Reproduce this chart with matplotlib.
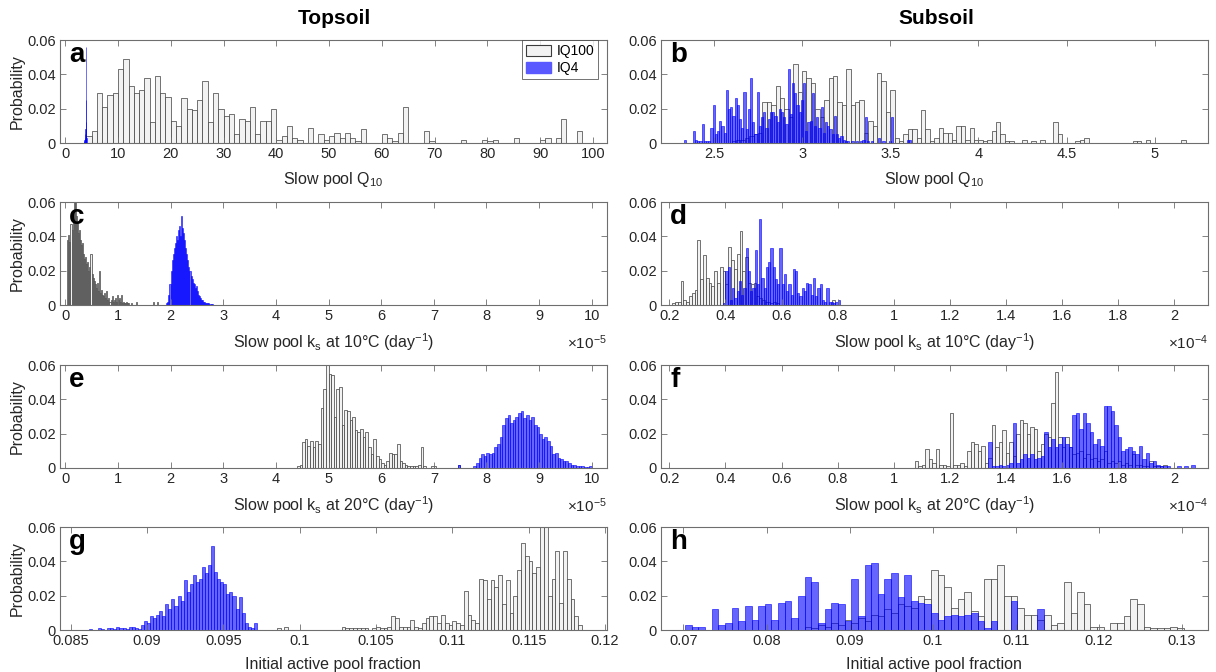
import numpy as np
import matplotlib.pyplot as plt
from matplotlib.patches import Patch

plt.rcParams['font.family'] = ['Liberation Sans', 'DejaVu Sans']
plt.rcParams['mathtext.default'] = 'regular'

# bin heights are stored in per-mille (probability * 1000)
PERMIL = 1e-3

# --- a: topsoil slow pool Q10 ---
a_iq100_lo, a_iq100_w = 4.0, 1.0
a_iq100 = [4, 7, 29, 21, 28, 29, 43, 49, 33, 29, 31, 38, 12, 39, 29, 27, 13, 10, 26, 20,
           19, 25, 36, 12, 29, 20, 16, 17, 5, 14, 13, 21, 5, 13, 13, 20, 2, 4, 10, 3,
           2, 0, 9, 0, 5, 2, 4, 6, 3, 6, 3, 1, 8, 0, 0, 0, 5, 3, 1, 6,
           21, 0, 0, 0, 7, 1, 0, 0, 0, 0, 0, 2, 0, 0, 0, 2, 1, 2, 0, 0,
           0, 3, 0, 0, 0, 0, 2, 3, 0, 3, 14, 0, 0, 7]
a_iq4_lo, a_iq4_w = 3.55, 0.05
a_iq4 = [0.5, 1, 2, 3, 5, 8, 12, 56, 25, 3]

# --- b: subsoil slow pool Q10 ---
b_iq100_lo, b_iq100_w = 2.55, 0.025
b_iq100 = [0, 0, 1, 2, 2, 3, 4, 5, 6,
           24, 24, 22, 33, 26, 20, 15, 46, 30,
           42, 38, 35, 20, 15, 25, 38, 39, 24,
           22, 43, 22, 24, 25, 6, 13, 10, 41,
           36, 18, 31, 3, 1, 5, 8, 8, 3,
           19, 8, 1, 3, 9, 6, 6, 2, 10,
           10, 2, 9, 2, 2, 1, 2, 7, 12,
           5, 1, 1, 0, 0, 2, 0, 1, 0,
           2, 0, 0, 12, 5, 0, 0, 0, 1,
           2, 3, 0, 0, 0, 0, 0, 0, 0,
           0, 0, 0, 1, 1, 0, 2, 0, 0,
           0, 0, 0, 0, 0, 2]
b_iq4_lo, b_iq4_w = 2.33, 0.0125
b_iq4 = [2, 0, 0, 0, 7, 2, 1, 1, 11, 1, 1, 1, 9, 22, 5, 7, 13, 10, 6, 31,
         20, 21, 16, 26, 22, 14, 9, 30, 8, 20, 38, 12, 5, 30, 10, 15, 18, 9, 14, 18,
         18, 16, 12, 20, 18, 15, 11, 43, 17, 35, 29, 22, 18, 25, 35, 7, 12, 13, 29, 10,
         15, 9, 21, 6, 12, 10, 8, 5, 16, 5, 3, 4, 2, 1, 1, 0, 1, 0, 1, 0,
         1, 2, 15, 1, 0, 1, 0, 0, 3, 0, 1, 0, 0, 1, 15, 0, 0, 0, 0, 0,
         0, 2, 2]

# --- c: topsoil ks at 10 C (x 1e-5) ---
c_iq100_lo, c_iq100_w = 0.04, 0.02
c_iq100 = [38, 41, 37, 47, 44, 55, 60, 60, 52, 48, 42, 44, 38, 35, 36, 30, 27, 28, 24, 25,
           20, 22, 30, 18, 16, 14, 12, 10, 13, 8, 20, 7, 9, 6, 5, 7, 4, 8, 3, 4,
           2, 3, 5, 2, 3, 4, 2, 6, 3, 4, 2, 6, 1, 2, 1, 1, 2, 1, 1, 0,
           1, 0, 0, 0, 0, 2, 0, 0, 0, 0, 0, 0, 0, 0, 0, 0, 0, 0, 0, 0,
           0, 2, 0, 0, 0, 2]
c_iq4_lo, c_iq4_w = 1.92, 0.02
c_iq4 = [1, 2, 6, 12, 20, 26, 30, 33, 36, 40, 38, 44, 46, 40, 52, 45, 42, 38, 33, 30,
         26, 22, 20, 17, 15, 13, 12, 10, 11, 8, 6, 5, 4, 3, 3, 2, 2, 1, 1, 1,
         1, 0.5, 0.5, 0.5, 0.3, 0.3, 0.3]

# --- d: subsoil ks at 10 C (x 1e-4) ---
d_iq100_lo, d_iq100_w = 0.20, 0.01
d_iq100 = [0, 1, 2, 2, 14, 3, 2, 5, 7, 9, 38, 15, 29, 16, 13, 11, 20, 13, 22, 20,
           12, 34, 26, 21, 30, 43, 20, 28, 13, 12, 13, 5, 4, 3, 2, 2, 1, 2, 1, 0,
           0, 0, 0, 0, 0, 0, 0, 0, 0, 0, 0, 0, 0, 0, 0, 0, 0, 0, 3]
d_iq4_lo, d_iq4_w = 0.392, 0.008
d_iq4 = [1, 20, 22, 3, 10, 4, 8, 14, 6, 10, 33, 20, 8, 10, 32, 12, 50, 16, 10, 22,
         25, 33, 22, 15, 12, 33, 12, 18, 8, 12, 6, 21, 20, 7, 5, 10, 8, 13, 12, 6,
         16, 5, 10, 12, 3, 2, 10, 2, 2, 1, 2, 3]

# --- e: topsoil ks at 20 C (x 1e-5) ---
e_iq100_lo, e_iq100_w = 4.40, 0.05
e_iq100 = [1, 2, 15, 17, 13, 16, 12, 16, 14, 35, 46, 60, 55, 54, 30, 46, 47, 25, 34, 33,
           28, 30, 22, 21, 23, 18, 21, 12, 8, 17, 7, 5, 3, 2, 4, 9, 8, 8, 14, 4,
           3, 2, 1, 1, 1, 1, 2, 12, 1, 0, 0, 1, 1, 0, 0, 0, 0, 0, 0, 0,
           0, 2]
e_iq4_lo, e_iq4_w = 7.45, 0.05
e_iq4 = [2, 0, 0, 0, 0, 0, 1, 3, 6, 8, 7, 9, 8, 9, 12, 14, 18, 25, 29, 31,
         26, 28, 30, 32, 33, 29, 31, 28, 30, 25, 24, 20, 17, 18, 16, 13, 8, 9, 6, 5,
         4, 4, 3, 2, 2, 1, 1, 1, 0.5, 0.5, 1]

# --- f: subsoil ks at 20 C (x 1e-4) ---
f_iq100_lo, f_iq100_w = 1.075, 0.0125
f_iq100 = [4, 1, 2, 11, 5, 3, 11, 2, 2, 1, 32, 2, 2, 3, 1, 10, 15, 14, 10, 13,
           3, 6, 25, 12, 15, 22, 9, 15, 7, 20, 28, 26, 20, 24, 23, 10, 14, 20, 18, 38,
           56, 18, 12, 18, 12, 8, 9, 10, 6, 8, 5, 6, 4, 5, 10, 3, 4, 3, 4, 2,
           3, 2, 8, 2, 2, 1, 1, 4, 1, 1, 1, 2]
f_iq4_lo, f_iq4_w = 1.3375, 0.0125
f_iq4 = [15, 1, 1, 2, 1, 2, 3, 26, 3, 5, 8, 6, 8, 5, 6, 7, 21, 12, 17, 12,
         14, 18, 14, 12, 31, 32, 23, 32, 26, 21, 14, 17, 13, 36, 36, 33, 25, 18, 10, 11,
         12, 10, 8, 13, 5, 9, 3, 4, 2, 1, 1, 1, 0, 0, 1, 0, 1, 0, 2]

# --- g: topsoil initial active pool fraction ---
g_iq100_lo, g_iq100_w = 0.0985, 0.00025
g_iq100 = [1, 0, 2, 0, 0, 0, 0, 0, 0, 0, 0, 0, 0, 0, 0, 0, 0, 2, 1, 1,
           1, 1, 1, 1, 0, 1, 2, 1, 1, 2, 8, 7, 2, 2, 2, 6, 2, 1, 4, 7,
           8, 8, 4, 9, 4, 3, 5, 4, 3, 23, 9, 6, 4, 30, 29, 18, 29, 25, 32, 15,
           29, 10, 20, 35, 51, 43, 40, 33, 37, 60, 60, 20, 30, 46, 16, 46, 30, 18, 8, 3]
g_iq4_lo, g_iq4_w = 0.0862, 0.0002
g_iq4 = [0.5, 0, 0, 1, 0.5, 0, 1, 1, 0.5, 2, 1, 1, 0.5, 2, 2, 1, 0.5, 3, 5, 4,
         8, 7, 9, 11, 8, 15, 12, 18, 14, 20, 17, 29, 22, 27, 32, 28, 30, 37, 33, 38,
         49, 34, 30, 28, 27, 21, 22, 20, 12, 19, 10, 4, 2, 1, 4, 0, 0]

# --- h: subsoil initial active pool fraction ---
h_iq100_lo, h_iq100_w = 0.0846, 0.0008
h_iq100 = [2, 1, 3, 2, 4, 3, 6, 4, 7, 5, 9, 8, 12, 10, 15, 14, 13, 20, 18, 35,
           32, 25, 13, 18, 22, 11, 8, 30, 30, 38, 20, 20, 13, 9, 9, 6, 9, 3, 4, 28,
           10, 22, 15, 2, 2, 0, 4, 4, 8, 18, 15, 2, 1, 1, 1, 2, 1]
h_iq4_lo, h_iq4_w = 0.0702, 0.0008
h_iq4 = [3, 2, 2, 0, 12, 3, 4, 13, 5, 14, 6, 14, 15, 6, 16, 17, 7, 20, 31, 28,
         4, 12, 16, 15, 5, 30, 8, 38, 39, 21, 30, 33, 19, 32, 17, 16, 15, 10, 6, 8,
         9, 8, 9, 10, 5, 1, 5, 0, 0, 17, 0, 0, 0, 12]

# --- axis setup per panel ---
panel_letters = ['a', 'b', 'c', 'd', 'e', 'f', 'g', 'h']
xlabels = ['Slow pool Q$_{10}$', 'Slow pool Q$_{10}$',
           'Slow pool k$_s$ at 10°C (day$^{-1}$)', 'Slow pool k$_s$ at 10°C (day$^{-1}$)',
           'Slow pool k$_s$ at 20°C (day$^{-1}$)', 'Slow pool k$_s$ at 20°C (day$^{-1}$)',
           'Initial active pool fraction', 'Initial active pool fraction']
exponents = [None, None, '$\\times$10$^{-5}$', '$\\times$10$^{-4}$',
             '$\\times$10$^{-5}$', '$\\times$10$^{-4}$', None, None]
xlims = [(-1.0, 102.6), (2.2, 5.3), (-0.1, 10.28), (0.17, 2.12),
         (-0.1, 10.28), (0.17, 2.12), (0.0843, 0.1201), (0.0673, 0.1331)]
xticks = [np.arange(0, 101, 10), np.arange(2.5, 5.01, 0.5), np.arange(0, 11, 1),
          np.arange(0.2, 2.01, 0.2), np.arange(0, 11, 1), np.arange(0.2, 2.01, 0.2),
          np.arange(0.085, 0.1201, 0.005), np.arange(0.07, 0.1301, 0.01)]

series = [
    ((a_iq100_lo, a_iq100_w, a_iq100), (a_iq4_lo, a_iq4_w, a_iq4)),
    ((b_iq100_lo, b_iq100_w, b_iq100), (b_iq4_lo, b_iq4_w, b_iq4)),
    ((c_iq100_lo, c_iq100_w, c_iq100), (c_iq4_lo, c_iq4_w, c_iq4)),
    ((d_iq100_lo, d_iq100_w, d_iq100), (d_iq4_lo, d_iq4_w, d_iq4)),
    ((e_iq100_lo, e_iq100_w, e_iq100), (e_iq4_lo, e_iq4_w, e_iq4)),
    ((f_iq100_lo, f_iq100_w, f_iq100), (f_iq4_lo, f_iq4_w, f_iq4)),
    ((g_iq100_lo, g_iq100_w, g_iq100), (g_iq4_lo, g_iq4_w, g_iq4)),
    ((h_iq100_lo, h_iq100_w, h_iq100), (h_iq4_lo, h_iq4_w, h_iq4)),
]

gray_face = '#f2f2f2'
gray_edge = '#3c3c3c'
blue_face = (0.0, 0.0, 1.0, 0.6)
blue_edge = (0.0, 0.0, 1.0, 0.8)
frame_col = '#6e6e6e'
text_col = '#262626'


def fmt_tick(v):
    s = ('%.3f' % v).rstrip('0').rstrip('.')
    return s


def draw_hist(ax, lo, w, permil, face, edge):
    p = np.asarray(permil, dtype=float) * PERMIL
    left = lo + w * np.arange(len(p))
    ax.bar(left, p, width=w, align='edge', color=face, edgecolor=edge, linewidth=0.5)


fig = plt.figure(figsize=(12.16, 6.72), dpi=100)

col_left = [0.0493, 0.5436]
col_width = 0.4495
row_bottom = [0.7872, 0.5461, 0.3036, 0.0625]
row_height = 0.1530

for k in range(8):
    row, col = k // 2, k % 2
    ax = fig.add_axes([col_left[col], row_bottom[row], col_width, row_height])
    (lo1, w1, v1), (lo2, w2, v2) = series[k]
    draw_hist(ax, lo1, w1, v1, gray_face, gray_edge)
    draw_hist(ax, lo2, w2, v2, blue_face, blue_edge)

    ax.set_xlim(*xlims[k])
    ax.set_ylim(0, 0.06)
    ax.set_xticks(xticks[k])
    ax.set_xticklabels([fmt_tick(t) for t in xticks[k]])
    ax.set_yticks([0, 0.02, 0.04, 0.06])
    ax.set_yticklabels(['0', '0.02', '0.04', '0.06'])
    ax.tick_params(direction='in', length=4, width=0.6, top=True, right=True,
                   colors=frame_col, labelcolor=text_col, labelsize=10.5, pad=3)
    for sp in ax.spines.values():
        sp.set_color(frame_col)
        sp.set_linewidth(0.8)
    ax.set_xlabel(xlabels[k], fontsize=11.5, color=text_col, labelpad=6)
    if col == 0:
        ax.set_ylabel('Probability', fontsize=11.5, color=text_col, labelpad=2)
    ax.text(0.017, 0.79, panel_letters[k], transform=ax.transAxes,
            fontsize=20, fontweight='bold', color='black', va='baseline')
    if exponents[k]:
        ax.text(1.0, -0.37, exponents[k], transform=ax.transAxes, ha='right',
                va='center', fontsize=11, color=text_col)

    if k == 0:
        handles = [Patch(facecolor=gray_face, edgecolor=gray_edge, linewidth=0.8, label='IQ100'),
                   Patch(facecolor=(0.35, 0.35, 1.0), edgecolor=(0.35, 0.35, 1.0), label='IQ4')]
        leg = ax.legend(handles=handles, loc='upper right', bbox_to_anchor=(0.985, 1.0),
                        fontsize=10, frameon=True, fancybox=False, borderaxespad=0.0,
                        handlelength=1.8, handleheight=0.9, borderpad=0.3,
                        labelspacing=0.2, handletextpad=0.4)
        leg.get_frame().set_edgecolor('#333333')
        leg.get_frame().set_linewidth(0.6)

fig.text(0.275, 0.972, 'Topsoil', ha='center', va='center', fontsize=15, fontweight='bold')
fig.text(0.770, 0.972, 'Subsoil', ha='center', va='center', fontsize=15, fontweight='bold')

fig.savefig('out.png', dpi=100)
